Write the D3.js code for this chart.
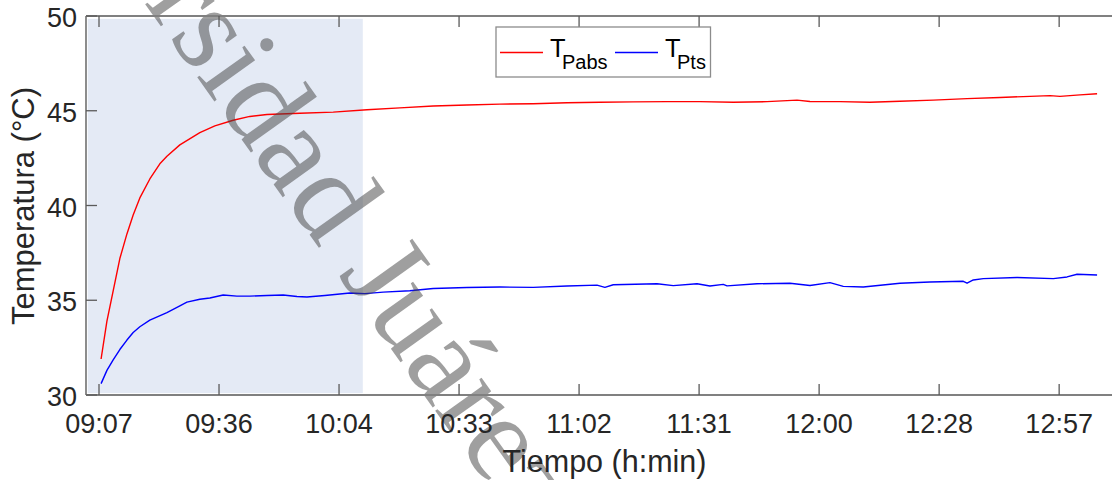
<!DOCTYPE html>
<html><head><meta charset="utf-8">
<script src="https://cdn.jsdelivr.net/npm/d3@7"></script>
<style>html,body{margin:0;padding:0;background:#fff;} svg{display:block;}</style>
</head><body>
<svg id="chart" width="1112" height="480"></svg>
<script>
// ---- data ----
const tickMinutes = [0, 28.8, 57.6, 86.4, 115.2, 144, 172.8, 201.6, 230.4];
const tickLabels = ["09:07","09:36","10:04","10:33","11:02","11:31","12:00","12:28","12:57"];
const yTicks = [30, 35, 40, 45, 50];

const tPabsMin = [0.5,1.9,3.4,5.0,6.7,8.2,9.8,12.2,14.6,16.3,19.4,24.2,27.8,32.2,36.2,40.3,48.2,56.2,64.3,72.2,80.2,88.3,96.2,104.2,112.3,120.2,128.2,136.3,144.2,152.2,160.3,167.5,170.6,177.8,185,192.2,200.2,208.3,216.2,223.4,228.2,230.6,235.4,239.5];
const tPabsVal = [31.9,33.9,35.5,37.2,38.5,39.5,40.4,41.4,42.2,42.6,43.2,43.85,44.2,44.5,44.7,44.8,44.87,44.93,45.05,45.15,45.25,45.3,45.35,45.37,45.42,45.45,45.47,45.48,45.48,45.45,45.48,45.56,45.49,45.48,45.45,45.5,45.56,45.64,45.7,45.76,45.8,45.76,45.84,45.9];

const tPtsMin = [0.5,1.9,3.4,5.0,6.7,8.2,9.8,12.2,16.3,19.4,21.1,24.2,26.6,29.8,33.1,36.2,40.3,44.2,47.5,49.9,54.2,60.2,63.8,68.2,74.6,80.2,88.3,96.2,104.2,112.3,119.5,121.4,123.4,133.9,137.8,143.5,146.6,149.8,150.7,157.9,165.8,170.6,175.4,178.6,183.4,192.2,199.4,207.4,208.3,209.8,212.2,220.3,229,232.3,234.7,239.5];
const tPtsVal = [30.6,31.3,31.85,32.4,32.9,33.3,33.6,33.95,34.35,34.7,34.9,35.05,35.12,35.28,35.22,35.22,35.25,35.28,35.2,35.17,35.25,35.38,35.35,35.43,35.5,35.62,35.67,35.7,35.68,35.75,35.8,35.68,35.82,35.87,35.77,35.87,35.75,35.84,35.76,35.87,35.9,35.78,35.93,35.73,35.7,35.9,35.96,36.0,35.9,36.07,36.14,36.2,36.14,36.23,36.37,36.33];

const shadeMinutes = [-2.7, 63.3];
const shadeTemps = [30.1, 49.85];

const seriesNames = ["Pabs", "Pts"];
const seriesColors = ["#ff0000", "#0000ff"];

// ---- scales ----
const svg = d3.select("#chart");
const x = d3.scaleLinear().domain([-3.12, 247.4]).range([86, 1130]);
const y = d3.scaleLinear().domain([30, 50]).range([395, 16]);

const font = "'Liberation Sans', Arial, Helvetica, sans-serif";
const axisColor = "#808080";
const textColor = "#262626";

// shaded region
svg.append("rect")
  .attr("x", x(shadeMinutes[0])).attr("y", y(shadeTemps[1]))
  .attr("width", x(shadeMinutes[1]) - x(shadeMinutes[0]))
  .attr("height", y(shadeTemps[0]) - y(shadeTemps[1]))
  .attr("fill", "#e4eaf5");

// lines
const line = d3.line().x(d => x(d[0])).y(d => y(d[1]));
const s1 = tPabsMin.map((t, i) => [t, tPabsVal[i]]);
const s2 = tPtsMin.map((t, i) => [t, tPtsVal[i]]);
[s1, s2].forEach((s, i) => {
  svg.append("path").datum(s).attr("d", line)
    .attr("fill", "none").attr("stroke", seriesColors[i]).attr("stroke-width", 1.4)
    .attr("stroke-linejoin", "round");
});

// watermark (over the lines, under axes and texts)
const ang = 54.5, fs = 124;
const wm = "Universidad Juárez Autónoma de Tabasco";
const rad = ang * Math.PI / 180;
const off = 3.874 * fs;
const sx = 246.7 - off * Math.cos(rad), sy = 146.7 - off * Math.sin(rad);
svg.append("text")
  .attr("transform", `translate(${sx},${sy}) rotate(${ang})`)
  .attr("font-family", "'Liberation Serif', 'Times New Roman', serif")
  .attr("font-size", fs).attr("fill", "#404040").attr("fill-opacity", 0.5)
  .text(wm);

// axes box
const x0 = x.range()[0], x1 = x.range()[1], yT = y(50), yB = y(30);
const box = svg.append("g").attr("stroke", axisColor).attr("stroke-width", 1.8).attr("fill", "none");
box.append("line").attr("x1", x0).attr("x2", x1).attr("y1", yB).attr("y2", yB);
box.append("line").attr("x1", x0).attr("x2", x1).attr("y1", yT).attr("y2", yT);
box.append("line").attr("x1", x0).attr("x2", x0).attr("y1", yT).attr("y2", yB);
box.append("line").attr("x1", x1).attr("x2", x1).attr("y1", yT).attr("y2", yB);

// ticks inward
const tk = svg.append("g").attr("stroke", "#5a5a5a").attr("stroke-width", 1.3);
tickMinutes.forEach(t => {
  tk.append("line").attr("x1", x(t)).attr("x2", x(t)).attr("y1", yB).attr("y2", yB - 11);
  tk.append("line").attr("x1", x(t)).attr("x2", x(t)).attr("y1", yT).attr("y2", yT + 11);
});
yTicks.forEach(v => {
  tk.append("line").attr("x1", x0).attr("x2", x0 + 11).attr("y1", y(v)).attr("y2", y(v));
});

// tick labels
svg.append("g").selectAll("text").data(tickMinutes).join("text")
  .attr("x", d => x(d)).attr("y", yB + 38)
  .attr("text-anchor", "middle").attr("font-family", font).attr("font-size", 27)
  .attr("fill", textColor).text((d, i) => tickLabels[i]);
svg.append("g").selectAll("text").data(yTicks).join("text")
  .attr("x", 77).attr("y", d => y(d) + 11)
  .attr("text-anchor", "end").attr("font-family", font).attr("font-size", 27)
  .attr("fill", textColor).text(d => d);

// axis labels
svg.append("text").attr("x", 604.5).attr("y", 472)
  .attr("text-anchor", "middle").attr("font-family", font).attr("font-size", 30.5)
  .attr("fill", textColor).text("Tiempo (h:min)");
svg.append("text").attr("transform", "translate(34,206) rotate(-90)")
  .attr("text-anchor", "middle").attr("font-family", font).attr("font-size", 31)
  .attr("fill", textColor).text("Temperatura (°C)");

// legend
const lg = svg.append("g");
lg.append("rect").attr("x", 496).attr("y", 27).attr("width", 214.5).attr("height", 50)
  .attr("fill", "#fff").attr("stroke", "#8c8c8c").attr("stroke-width", 1.3);
const legX = [500, 615];
seriesNames.forEach((n, i) => {
  const lx = legX[i];
  lg.append("line").attr("x1", lx).attr("x2", lx + 43).attr("y1", 52.5).attr("y2", 52.5)
    .attr("stroke", seriesColors[i]).attr("stroke-width", 1.4);
  lg.append("text").attr("x", lx + 50).attr("y", 56.7).attr("font-family", font)
    .attr("font-size", 25.5).attr("fill", "#000").text("T");
  lg.append("text").attr("x", lx + 62).attr("y", 69.3).attr("font-family", font)
    .attr("font-size", 20).attr("fill", "#000").text(n);
});
</script>
</body></html>
